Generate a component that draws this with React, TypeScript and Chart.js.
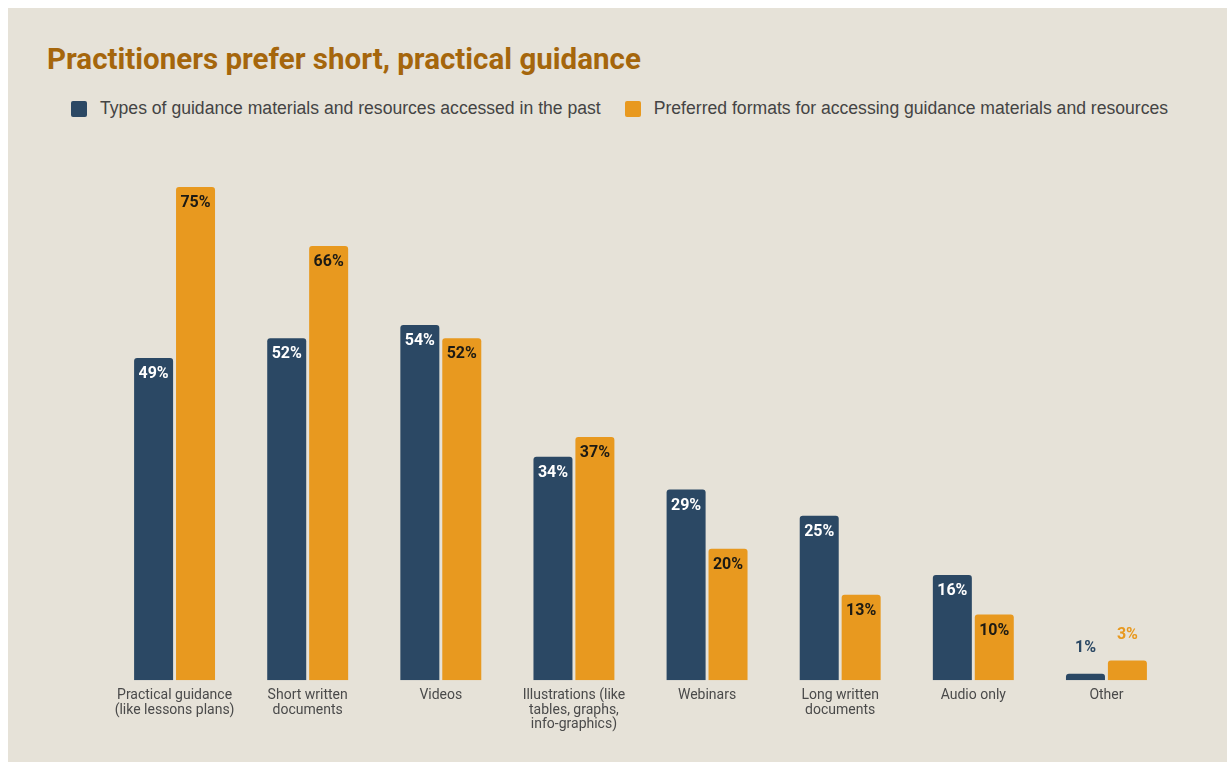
import React, { useEffect, useRef } from "react";
import { Chart, registerables } from "chart.js";

Chart.register(...registerables);

const categories: string[][] = [
  ["Practical guidance", "(like lessons plans)"],
  ["Short written", "documents"],
  ["Videos"],
  ["Illustrations (like", "tables, graphs,", "info-graphics)"],
  ["Webinars"],
  ["Long written", "documents"],
  ["Audio only"],
  ["Other"],
];
const accessedPast = [49, 52, 54, 34, 29, 25, 16, 1];
const preferredFormats = [75, 66, 52, 37, 20, 13, 10, 3];
const seriesNames = [
  "Types of guidance materials and resources accessed in the past",
  "Preferred formats for accessing guidance materials and resources",
];

const NAVY = "#2b4864";
const ORANGE = "#e8991f";
const BG = "#e6e2d8";
const FONT = "Roboto, 'Noto Sans', sans-serif";
const LEGEND_FONT = "'Liberation Sans', Arial, sans-serif";

const labelPlugin = {
  id: "barLabels",
  afterDatasetsDraw(chart: any) {
    const ctx = chart.ctx;
    ctx.save();
    ctx.font = `bold 16px ${FONT}`;
    ctx.textAlign = "center";
    ctx.textBaseline = "middle";
    chart.data.datasets.forEach((ds: any, di: number) => {
      const meta = chart.getDatasetMeta(di);
      meta.data.forEach((bar: any, i: number) => {
        const v = ds.data[i];
        const text = `${v}%`;
        if (v < 5) {
          ctx.fillStyle = di === 0 ? NAVY : ORANGE;
          ctx.fillText(text, bar.x, bar.y - 26);
        } else {
          ctx.fillStyle = di === 0 ? "#ffffff" : "#1c1a14";
          ctx.fillText(text, bar.x, bar.y + 16);
        }
      });
    });
    ctx.restore();
  },
};

export default function App() {
  const ref = useRef<HTMLCanvasElement>(null);
  useEffect(() => {
    if (!ref.current) return;
    const chart = new Chart(ref.current, {
      type: "bar",
      data: {
        labels: categories,
        datasets: [
          {
            label: seriesNames[0],
            data: accessedPast,
            backgroundColor: NAVY,
            borderRadius: { topLeft: 3, topRight: 3, bottomLeft: 0, bottomRight: 0 },
            borderSkipped: false,
            categoryPercentage: 0.63,
            barPercentage: 0.93,
          },
          {
            label: seriesNames[1],
            data: preferredFormats,
            backgroundColor: ORANGE,
            borderRadius: { topLeft: 3, topRight: 3, bottomLeft: 0, bottomRight: 0 },
            borderSkipped: false,
            categoryPercentage: 0.63,
            barPercentage: 0.93,
          },
        ],
      },
      options: {
        animation: false,
        responsive: false,
        maintainAspectRatio: false,
        layout: { padding: { left: 100, right: 54, top: 24, bottom: 30 } },
        plugins: {
          legend: { display: false },
          title: { display: false },
          tooltip: { enabled: false },
        },
        scales: {
          x: {
            grid: { display: false },
            border: { display: false },
            ticks: {
              color: "#4a4a4a",
              font: { family: FONT, size: 14, lineHeight: 1.04 },
              padding: 0,
              maxRotation: 0,
              autoSkip: false,
            },
          },
          y: {
            display: false,
            min: 0,
            max: 80,
          },
        },
      },
      plugins: [labelPlugin],
    });
    return () => chart.destroy();
  }, []);

  return (
    <div
      style={{
        position: "fixed",
        left: 8,
        top: 8,
        right: 0,
        bottom: 0,
        background: BG,
        fontFamily: FONT,
        overflow: "hidden",
      }}
    >
      <div
        style={{
          position: "absolute",
          left: 39,
          top: 34,
          fontSize: 29.5,
          fontWeight: 700,
          color: "#a5660c",
          whiteSpace: "nowrap",
        }}
      >
        Practitioners prefer short, practical guidance
      </div>
      <div
        style={{
          position: "absolute",
          left: 63,
          top: 90,
          display: "flex",
          alignItems: "center",
          fontSize: 17.6,
          fontFamily: LEGEND_FONT,
          color: "#444444",
          whiteSpace: "nowrap",
        }}
      >
        <span style={{ width: 16, height: 16, background: NAVY, borderRadius: 2, marginRight: 13 }} />
        <span style={{ marginRight: 24 }}>{seriesNames[0]}</span>
        <span style={{ width: 16, height: 16, background: ORANGE, borderRadius: 2, marginRight: 13 }} />
        <span>{seriesNames[1]}</span>
      </div>
      <canvas
        ref={ref}
        width={1219}
        height={632}
        style={{ position: "absolute", left: 0, top: 122, width: 1219, height: 632 }}
      />
    </div>
  );
}
